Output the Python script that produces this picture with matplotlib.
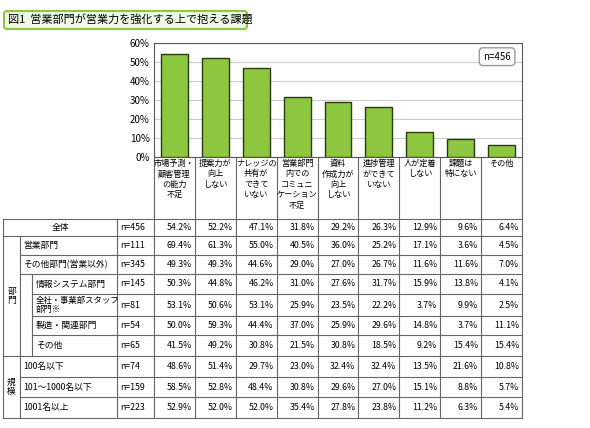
import matplotlib
matplotlib.use("Agg")
import matplotlib.pyplot as plt
from matplotlib.patches import FancyBboxPatch

plt.rcParams['font.family'] = ['Noto Sans CJK JP', 'DejaVu Sans']

title = "図1  営業部門が営業力を強化する上で抱える課題"
categories = ["市場予測・\n顧客管理\nの能力\n不足", "提案力が\n向上\nしない", "ナレッジの\n共有が\nできて\nいない",
              "営業部門\n内での\nコミュニ\nケーション\n不足", "資料\n作成力が\n向上\nしない", "進捗管理\nができて\nいない",
              "人が定着\nしない", "課題は\n特にない", "その他"]
overall = [54.2, 52.2, 47.1, 31.8, 29.2, 26.3, 12.9, 9.6, 6.4]
yticks = [0, 10, 20, 30, 40, 50, 60]

row_labels = ["全体", "営業部門", "その他部門(営業以外)", "情報システム部門", "全社・事業部スタッフ\n部門※",
              "製造・関連部門", "その他", "100名以下", "101～1000名以下", "1001名以上"]
row_n = ["n=456", "n=111", "n=345", "n=145", "n=81", "n=54", "n=65", "n=74", "n=159", "n=223"]
row_vals = [
    [54.2, 52.2, 47.1, 31.8, 29.2, 26.3, 12.9, 9.6, 6.4],
    [69.4, 61.3, 55.0, 40.5, 36.0, 25.2, 17.1, 3.6, 4.5],
    [49.3, 49.3, 44.6, 29.0, 27.0, 26.7, 11.6, 11.6, 7.0],
    [50.3, 44.8, 46.2, 31.0, 27.6, 31.7, 15.9, 13.8, 4.1],
    [53.1, 50.6, 53.1, 25.9, 23.5, 22.2, 3.7, 9.9, 2.5],
    [50.0, 59.3, 44.4, 37.0, 25.9, 29.6, 14.8, 3.7, 11.1],
    [41.5, 49.2, 30.8, 21.5, 30.8, 18.5, 9.2, 15.4, 15.4],
    [48.6, 51.4, 29.7, 23.0, 32.4, 32.4, 13.5, 21.6, 10.8],
    [58.5, 52.8, 48.4, 30.8, 29.6, 27.0, 15.1, 8.8, 5.7],
    [52.9, 52.0, 52.0, 35.4, 27.8, 23.8, 11.2, 6.3, 5.4],
]
groups = [("部\n門", 1, 6), ("規\n模", 7, 9)]

W, H = 590, 428
fig = plt.figure(figsize=(W/100, H/100), dpi=100)
ov = fig.add_axes([0, 0, 1, 1])
ov.set_xlim(0, W); ov.set_ylim(H, 0); ov.axis('off')

x0, xg, xs, xlab, xn, xc0, xc1 = 3, 20, 32, 117, 154, 154, 522
ytop, ybot = 43, 157
tab_top = 219
row_b = [219, 236, 255, 274, 294, 316, 335, 356, 377, 397, 418]
ncol = len(categories)
cw = (xc1 - xc0) / ncol

ax = fig.add_axes([xc0/W, 1-ybot/H, (xc1-xc0)/W, (ybot-ytop)/H])
ax.bar(range(ncol), overall, width=0.66, color='#8dc63f', edgecolor='#2c3a12', linewidth=1, zorder=3)
ax.set_xlim(-0.5, ncol-0.5); ax.set_ylim(0, 60)
ax.set_yticks(yticks)
ax.set_yticklabels([f"{t}%" for t in yticks], fontsize=7)
ax.set_xticks([])
ax.tick_params(axis='y', length=0, pad=3)
ax.grid(axis='y', color='#cccccc', linewidth=0.8, zorder=0)
for s in ax.spines.values():
    s.set_color('#555555')
ax.text(0.97, 0.88, "n=456", transform=ax.transAxes, ha='right', va='center', fontsize=7,
        bbox=dict(boxstyle='round,pad=0.4', fc='white', ec='#999999', lw=1))

ov.add_patch(FancyBboxPatch((4, 11), 243, 18, boxstyle='round,pad=0,rounding_size=3',
                            fc='#f2f8e6', ec='#8dc63f', lw=1.5))
ov.text(8, 20, title, fontsize=8, va='center', ha='left')

lc = '#666666'
lw = 0.8
for i in range(ncol + 1):
    x = xc0 + i * cw
    ov.plot([x, x], [ybot, row_b[-1]], color=lc, lw=lw)
for i, c in enumerate(categories):
    ov.text(xc0 + (i+0.5)*cw, ybot + 2, c, fontsize=5.9, ha='center', va='top', linespacing=1.2)

ov.plot([x0, xc1], [tab_top, tab_top], color=lc, lw=lw)
ov.plot([x0, x0], [tab_top, row_b[-1]], color=lc, lw=lw)
ov.plot([xlab, xlab], [tab_top, row_b[-1]], color=lc, lw=lw)
ov.plot([xg, xg], [row_b[1], row_b[-1]], color=lc, lw=lw)
ov.plot([xs, xs], [row_b[3], row_b[7]], color=lc, lw=lw)
for r in range(1, len(row_b)):
    y = row_b[r]
    if r in (4, 5, 6):
        xl = xs
    elif r in (1, 7, 10):
        xl = x0
    else:
        xl = xg
    ov.plot([xl, xc1], [y, y], color=lc, lw=lw)

for r, lab in enumerate(row_labels):
    yc = (row_b[r] + row_b[r+1]) / 2
    if r == 0:
        ov.text((x0+xlab)/2, yc, lab, fontsize=6.3, ha='center', va='center')
    else:
        xl = xs + 4 if 3 <= r <= 6 else xg + 3
        fs = 6.0 if r == 4 else 6.3
        ov.text(xl, yc, lab, fontsize=fs, ha='left', va='center', linespacing=1.05)
    ov.text(xlab + 3, yc, row_n[r], fontsize=6.3, ha='left', va='center')
    for i, v in enumerate(row_vals[r]):
        ov.text(xc0 + (i+1)*cw - 3, yc, f"{v:.1f}%", fontsize=6.3, ha='right', va='center')

for g, a, b in groups:
    yc = (row_b[a] + row_b[b+1]) / 2
    ov.text((x0+xg)/2, yc, g, fontsize=6.3, ha='center', va='center', linespacing=1.0)

fig.savefig("out.png", dpi=100)
